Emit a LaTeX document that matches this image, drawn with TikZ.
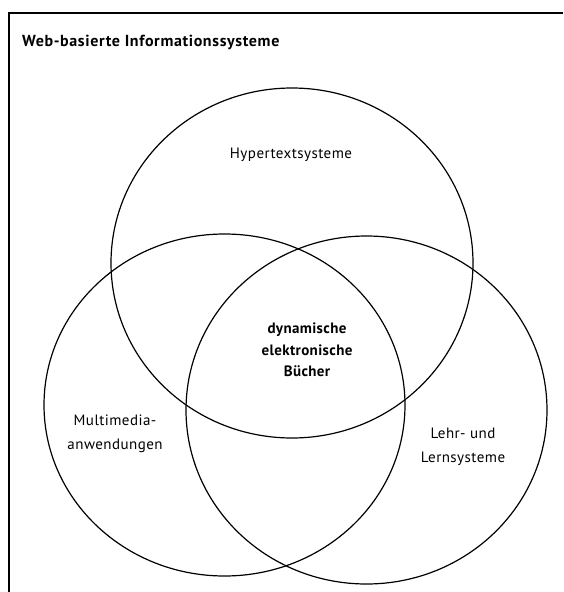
\documentclass[tikz,border=0pt]{standalone}
\usepackage{fontspec}
\setmainfont{PT Sans}
\begin{document}
\begin{tikzpicture}[x=1pt,y=-1pt,
  setring/.style={draw=black,line width=1.2pt},
  frameline/.style={draw=black,line width=1.5pt},
  setlabel/.style={font=\fontsize{15}{23.5}\selectfont\addfontfeature{LetterSpace=3},align=center,inner sep=0pt},
  corelabel/.style={font=\bfseries\fontsize{15}{21.5}\selectfont\addfontfeature{LetterSpace=2.5},align=center,inner sep=0pt},
  titlelabel/.style={font=\bfseries\fontsize{16}{18}\selectfont\addfontfeature{LetterSpace=4},anchor=west,inner sep=0pt}]
\useasboundingbox (0,0) rectangle (563,592);
% outer frame, open at the right and bottom
\coordinate (fbl) at (9,592);
\coordinate (ftl) at (9,13);
\coordinate (ftr) at (563,13);
\draw[frameline] (fbl) -- (ftl) -- (ftr);
\node[titlelabel] (title) at (22,42) {Web-basierte Informationssysteme};
% the three sets
\draw[setring] (292,263) ellipse [x radius=181, y radius=175];
\draw[setring] (224.5,405) ellipse [x radius=180.5, y radius=171];
\draw[setring] (366.5,410) ellipse [x radius=180.5, y radius=174];
% labels
\node[setlabel] (hyper) at (291,155) {Hypertextsysteme};
\node[setlabel] (multi) at (115,434) {Multimedia-\\anwendungen};
\node[setlabel] (lern) at (463,447) {Lehr- und\\Lernsysteme};
\node[corelabel] (core) at (307,350) {dynamische\\elektronische\\Bücher};
\end{tikzpicture}
\end{document}
